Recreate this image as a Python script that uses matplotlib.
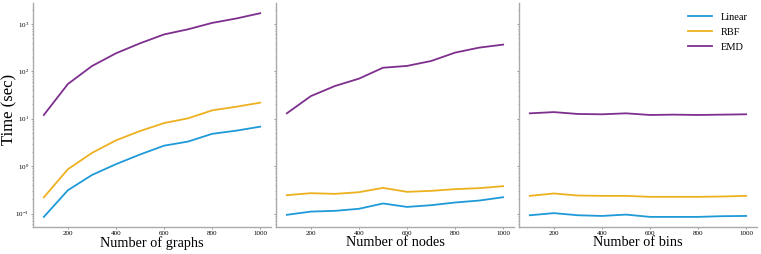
import matplotlib
matplotlib.use("Agg")
import matplotlib.pyplot as plt
import numpy as np

plt.rcParams['font.family'] = ['Liberation Serif', 'DejaVu Serif']
plt.rcParams['mathtext.fontset'] = 'stix'

# x values shared by all panels
sizes = [100, 200, 300, 400, 500, 600, 700, 800, 900, 1000]

# panel 1: number of graphs
graphs_linear = [0.085, 0.31, 0.65, 1.1, 1.76, 2.7, 3.3, 4.8, 5.6, 6.8]
graphs_rbf = [0.22, 0.86, 1.9, 3.5, 5.5, 8.1, 10.2, 15.0, 17.9, 21.8]
graphs_emd = [12, 54, 129, 240, 390, 600, 770, 1050, 1300, 1680]

# panel 2: number of nodes
nodes_linear = [0.094, 0.110, 0.114, 0.126, 0.163, 0.138, 0.150, 0.171, 0.188, 0.221]
nodes_rbf = [0.244, 0.269, 0.260, 0.282, 0.348, 0.287, 0.301, 0.327, 0.343, 0.378]
nodes_emd = [13, 30, 49, 70, 119, 130, 165, 248, 316, 366]

# panel 3: number of bins
bins_linear = [0.092, 0.102, 0.092, 0.089, 0.095, 0.085, 0.085, 0.085, 0.088, 0.089]
bins_rbf = [0.236, 0.265, 0.240, 0.236, 0.236, 0.225, 0.225, 0.225, 0.229, 0.236]
bins_emd = [13.0, 13.8, 12.6, 12.4, 13.0, 12.0, 12.2, 12.0, 12.2, 12.4]

xlabels = ["Number of graphs", "Number of nodes", "Number of bins"]
names = ["Linear", "RBF", "EMD"]
colors = ["#1f9ad8", "#EDB120", "#7E2F8E"]

panels = [
    (graphs_linear, graphs_rbf, graphs_emd),
    (nodes_linear, nodes_rbf, nodes_emd),
    (bins_linear, bins_rbf, bins_emd),
]

fig, axes = plt.subplots(1, 3, figsize=(7.61, 2.54), dpi=100, sharey=True)
fig.subplots_adjust(left=0.0434, right=0.9947, bottom=0.106, top=0.988, wspace=0.021)

for ax, series, xl in zip(axes, panels, xlabels):
    for vals, name, c in zip(series, names, colors):
        ax.plot(sizes, vals, color=c, lw=1.3, label=name)
    ax.set_yscale("log")
    ax.set_xticks([200, 400, 600, 800, 1000])
    ax.set_xlabel(xl, fontsize=10.3, labelpad=0)
    for s in ["top", "right"]:
        ax.spines[s].set_visible(False)
    for s in ["left", "bottom"]:
        ax.spines[s].set_color("#aaaaaa")
        ax.spines[s].set_linewidth(1.0)
    ax.tick_params(axis="both", which="major", labelsize=5, length=1.5,
                   width=0.6, color="#888888", pad=1.5)
    ax.tick_params(axis="y", which="minor", length=1.0, width=0.5, color="#888888")

axes[0].set_ylabel("Time (sec)", fontsize=12)
axes[0].yaxis.set_label_coords(-0.067, 0.527)
axes[2].legend(loc="upper right", frameon=False, fontsize=7.5, handlelength=2.3,
               borderaxespad=0.5, labelspacing=0.55)

fig.savefig("out.png", dpi=100)
